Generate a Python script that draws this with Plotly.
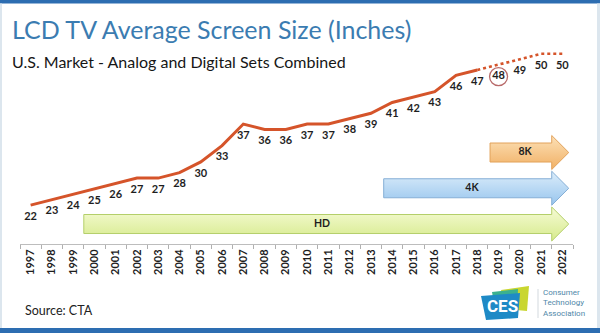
import plotly.graph_objects as go

# ---------------- data ----------------
years = list(range(1997, 2023))
screen_size = [22, 23, 24, 25, 26, 27, 27, 28, 30, 33, 37, 36, 36, 37, 37, 38, 39,
               41, 42, 43, 46, 47, 48, 49, 50, 50]
last_actual_year = 2018
highlight_year = 2019

eras = ["HD", "4K", "8K"]
era_start = [1999.5, 2013.6, 2018.6]   # year position where each era arrow begins

# ---------------- layout constants ----------------
W, H = 600, 333
ML, MR, MT, MB = 20, 27, 43, 89
PW, PH = W - ML - MR, H - MT - MB
LINE_COLOR = "#D5542A"
TEXT_DARK = "#1E1E1E"
Y_RANGE = [14.8, 52.0]
LABEL_OFFSET = 12 / (PH / (Y_RANGE[1] - Y_RANGE[0]))  # 12px below the point

def px(xp):
    return (xp - ML) / PW

def py(yp):
    return (H - MB - yp) / PH

fig = go.Figure()

# ---------------- era arrows ----------------
arrow_base = years[-1] - 0.5
arrow_tip = years[-1] + 0.3
body_h, head_h = 0.266, 0.476
era_styles = {
    "HD": dict(top="#F6FBD6", bot="#D6EA8C", edge="#B4CF6A"),
    "4K": dict(top="#DCEDFA", bot="#97C5EE", edge="#86AFD6"),
    "8K": dict(top="#FCE1B8", bot="#F1B064", edge="#E2A25A"),
}
for row, (name, s) in enumerate(zip(eras, era_start)):
    st = era_styles[name]
    xs = [s, arrow_base, arrow_base, arrow_tip, arrow_base, arrow_base, s, s]
    ys = [row - body_h, row - body_h, row - head_h, row, row + head_h,
          row + body_h, row + body_h, row - body_h]
    fig.add_trace(go.Scatter(
        x=xs, y=ys, yaxis="y2", mode="lines", fill="toself",
        fillgradient=dict(type="vertical", colorscale=[[0, st["bot"]], [1, st["top"]]]),
        line=dict(color=st["edge"], width=1), hoverinfo="skip", showlegend=False))
    fig.add_trace(go.Scatter(
        x=[(s + arrow_tip) / 2 - 0.2], y=[row], yaxis="y2", mode="text",
        text=[f"<b>{name}</b>"], textposition="middle center",
        textfont=dict(family="Lato", size=10.5, color=TEXT_DARK),
        hoverinfo="skip", showlegend=False))

# ---------------- line ----------------
k = years.index(last_actual_year)
fig.add_trace(go.Scatter(
    x=years[:k + 1], y=screen_size[:k + 1], mode="lines",
    line=dict(color=LINE_COLOR, width=3), hoverinfo="skip", showlegend=False))
fig.add_trace(go.Scatter(
    x=years[k:], y=screen_size[k:], mode="lines",
    line=dict(color=LINE_COLOR, width=2.6, dash="dot"), hoverinfo="skip", showlegend=False))

# data labels
fig.add_trace(go.Scatter(
    x=years, y=[v - LABEL_OFFSET for v in screen_size], mode="text",
    text=[f"<b>{v}</b>" for v in screen_size], textposition="middle center",
    textfont=dict(family="Lato", size=11, color=TEXT_DARK),
    hoverinfo="skip", showlegend=False))

# highlight circle around the current-year label
hi = years.index(highlight_year)
fig.add_trace(go.Scatter(
    x=[highlight_year], y=[screen_size[hi] - LABEL_OFFSET], mode="markers",
    marker=dict(symbol="circle-open", size=18, color="#B86A6A", line=dict(width=1.3)),
    hoverinfo="skip", showlegend=False))

# ---------------- decorations ----------------
shapes = []
# top and bottom blue bars
shapes.append(dict(type="rect", xref="paper", yref="paper", x0=px(0), x1=px(W),
                   y0=py(0), y1=py(3.5), fillcolor="#2D6DB1", line=dict(width=0), layer="above"))
shapes.append(dict(type="rect", xref="paper", yref="paper", x0=px(0), x1=px(W),
                   y0=py(328), y1=py(333), fillcolor="#2D6DB1", line=dict(width=0), layer="above"))
# side frame
for x0, x1 in [(0, 2), (W - 3, W)]:
    shapes.append(dict(type="rect", xref="paper", yref="paper", x0=px(x0), x1=px(x1),
                       y0=py(3.5), y1=py(328), fillcolor="#DCE6EE", line=dict(width=0)))

def poly(points, color):
    path = "M " + " L ".join(f"{px(a):.5f},{py(b):.5f}" for a, b in points) + " Z"
    return dict(type="path", xref="paper", yref="paper", path=path,
                fillcolor=color, line=dict(width=0), layer="above")

# CES logo (approximate)
shapes.append(poly([(501, 290), (529, 286), (527, 311), (506, 309)], "#C9D630"))
shapes.append(poly([(492, 292), (518, 289), (517, 314), (496, 315)], "#3BB08F"))
shapes.append(poly([(481, 296), (520, 293), (518, 318), (486, 320)], "#1E8AC6"))
shapes.append(dict(type="line", xref="paper", yref="paper", x0=px(538), x1=px(538),
                   y0=py(289), y1=py(318), line=dict(color="#D3D9DE", width=1)))

annotations = [
    dict(text="LCD TV Average Screen Size (Inches)", x=px(10), y=py(28.5), xref="paper",
         yref="paper", xanchor="left", yanchor="middle", showarrow=False,
         font=dict(family="Lato", size=25, color="#3B7CB1")),
    dict(text="U.S. Market - Analog and Digital Sets Combined", x=px(10), y=py(61),
         xref="paper", yref="paper", xanchor="left", yanchor="middle", showarrow=False,
         font=dict(family="Lato", size=16, color="#161616")),
    dict(text="Source: CTA", x=px(23), y=py(310), xref="paper", yref="paper",
         xanchor="left", yanchor="middle", showarrow=False,
         font=dict(family="Lato", size=12.5, color="#222222")),
    dict(text="<b>CES</b>", x=px(502), y=py(306), xref="paper", yref="paper",
         xanchor="center", yanchor="middle", showarrow=False,
         font=dict(family="Roboto", size=17, color="white")),
    dict(text="Consumer<br>Technology<br>Association", x=px(541), y=py(303),
         xref="paper", yref="paper", xanchor="left", yanchor="middle", align="left",
         showarrow=False, font=dict(family="Roboto", size=8, color="#4F87A8")),
]

fig.update_layout(
    width=W, height=H, margin=dict(l=ML, r=MR, t=MT, b=MB),
    paper_bgcolor="white", plot_bgcolor="white",
    showlegend=False, shapes=shapes, annotations=annotations,
    xaxis=dict(
        type="linear", range=[years[0] - 0.5, years[-1] + 0.5],
        tickvals=years, ticktext=[str(y) for y in years], tickangle=-90,
        ticks="", showgrid=False, zeroline=False,
        showline=True, linecolor="#BDBDBD", linewidth=1,
        tickfont=dict(family="Lato", size=11, color=TEXT_DARK, weight="bold"),
        minor=dict(tickvals=[y - 0.5 for y in years] + [years[-1] + 0.5],
                   ticks="outside", ticklen=4, tickcolor="#B0B0B0", showgrid=False),
        fixedrange=True,
    ),
    yaxis=dict(range=Y_RANGE, visible=False, fixedrange=True),
    yaxis2=dict(range=[-0.559, 5.063], overlaying="y", visible=False, fixedrange=True),
)

fig.write_html("out.html")
